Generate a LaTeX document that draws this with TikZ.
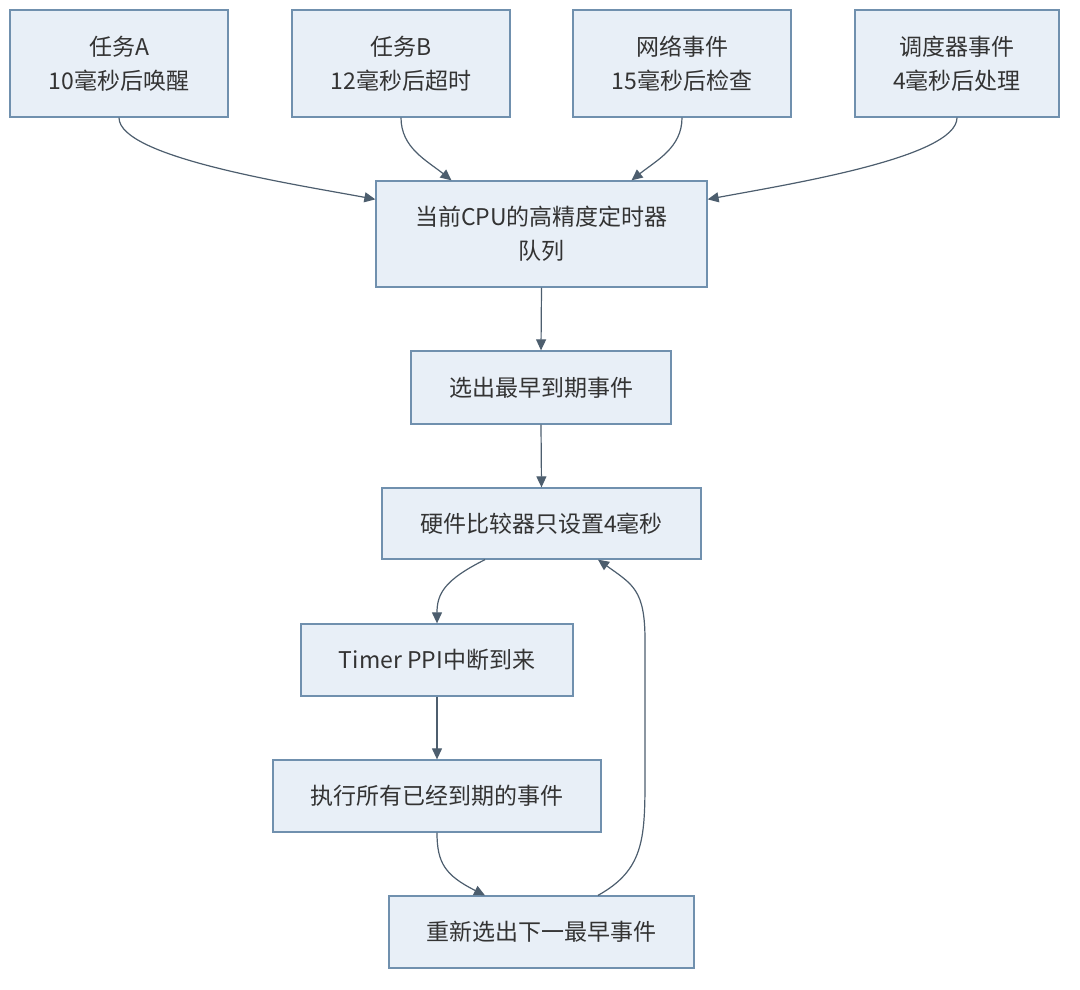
\documentclass[tikz,border=0pt]{standalone}
\usepackage{fontspec}
\setmainfont{Noto Sans CJK SC}
\usetikzlibrary{arrows.meta,calc}
\definecolor{boxfill}{HTML}{E8EFF7}
\definecolor{boxline}{HTML}{7090AE}
\definecolor{arr}{HTML}{4D5E6E}
\definecolor{txt}{HTML}{333333}
\tikzset{
  box/.style={draw=boxline, fill=boxfill, line width=1.3pt, text=txt, align=center, font=\fontsize{23}{34}\selectfont, inner sep=0pt},
  conn/.style={draw=arr, line width=1.2pt, -{Triangle[length=11pt,width=10pt]}},
}
\begin{document}
\begin{tikzpicture}[x=1pt,y=-1pt]
\useasboundingbox (0,0) rectangle (1080,989);
\node[box, minimum width=218pt, minimum height=107pt] (A) at (119,63.5) {任务A\\10毫秒后唤醒};
\node[box, minimum width=218pt, minimum height=107pt] (B) at (401,63.5) {任务B\\12毫秒后超时};
\node[box, minimum width=218pt, minimum height=107pt] (N) at (682,63.5) {网络事件\\15毫秒后检查};
\node[box, minimum width=204pt, minimum height=107pt] (S) at (957,63.5) {调度器事件\\4毫秒后处理};
\node[box, minimum width=331pt, minimum height=106pt] (Q) at (541.5,234) {当前CPU的高精度定时器\\队列};
\node[box, minimum width=260pt, minimum height=73pt] (E) at (541,387.5) {选出最早到期事件};
\node[box, minimum width=319pt, minimum height=71pt] (H) at (541.5,523.5) {硬件比较器只设置4毫秒};
\node[box, minimum width=272pt, minimum height=72pt] (T) at (437,660) {Timer PPI中断到来};
\node[box, minimum width=328pt, minimum height=72pt] (X) at (437,796) {执行所有已经到期的事件};
\node[box, minimum width=305pt, minimum height=72pt] (R) at (541.5,932) {重新选出下一最早事件};

\coordinate (qa) at ($(Q.north west)+(0,19)$);
\coordinate (qb) at ($(Q.north)+(-90,0)$);
\coordinate (qn) at ($(Q.north)+(90,0)$);
\coordinate (qs) at ($(Q.north east)+(0,19)$);
\draw[conn] (A.south) .. controls +(0,40) and +(-80,-15) .. (qa);
\draw[conn] (B.south) .. controls +(0,30) and +(-25,-20) .. (qb);
\draw[conn] (N.south) .. controls +(0,30) and +(25,-20) .. (qn);
\draw[conn] (S.south) .. controls +(0,40) and +(80,-15) .. (qs);
\draw[conn] (Q.south) -- (E.north);
\draw[conn] (E.south) -- (H.north);
\coordinate (hl) at ($(H.south)+(-56.5,0)$);
\coordinate (hr) at ($(H.south)+(56.5,0)$);
\draw[conn] (hl) .. controls +(-40,20) and +(0,-30) .. (T.north);
\draw[conn] (T.south) -- (X.north);
\coordinate (rl) at ($(R.north)+(-56.5,0)$);
\coordinate (rr) at ($(R.north)+(56.5,0)$);
\draw[conn] (X.south) .. controls +(0,30) and +(-40,-20) .. (rl);
\draw[conn] (rr) .. controls +(45,-25) and +(0,60) .. (645,780) -- (645,640) .. controls +(0,-50) and +(35,25) .. (hr);
\end{tikzpicture}
\end{document}
